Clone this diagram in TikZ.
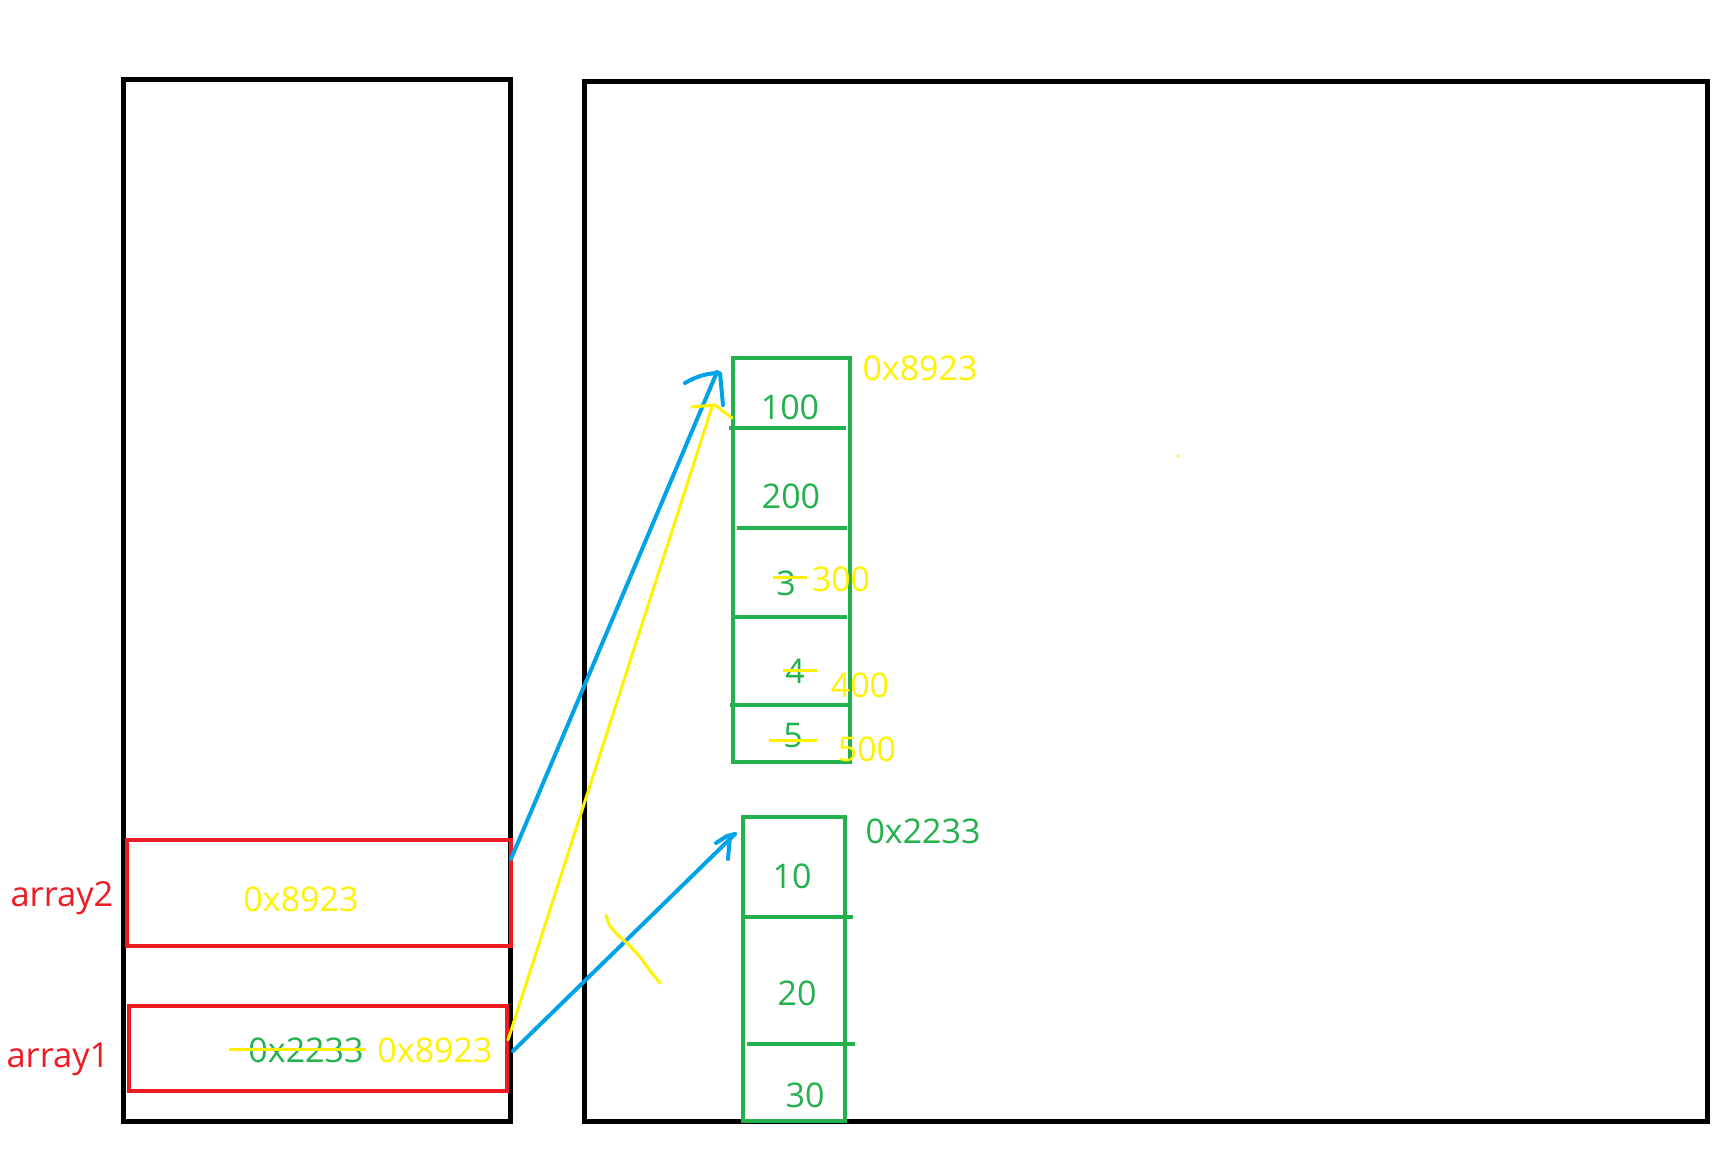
\documentclass[tikz,border=0pt]{standalone}
\usepackage{fontspec}
\setmainfont{Open Sans}
\definecolor{pgreen}{HTML}{22B14C}
\definecolor{pred}{HTML}{ED1C24}
\definecolor{pyellow}{HTML}{FFF200}
\definecolor{pblue}{HTML}{00A2E8}
\begin{document}
\begin{tikzpicture}[x=1pt,y=-1pt,
  memblock/.style={draw=black, line width=5pt, inner sep=0pt},
  varbox/.style={draw=pred, line width=4pt, inner sep=0pt},
  arrbox/.style={draw=pgreen, line width=4pt, inner sep=0pt},
  divline/.style={draw=pgreen, line width=3.5pt},
  txt/.style={font=\fontsize{34}{40}\selectfont, inner sep=0pt, anchor=base},
  gtxt/.style={txt, text=pgreen},
  ytxt/.style={txt, text=pyellow},
  rtxt/.style={font=\fontsize{34.5}{40}\selectfont, inner sep=0pt, anchor=base, text=pred},
  strike/.style={draw=pyellow, line width=3pt},
  bluearrow/.style={draw=pblue, line width=4pt, line cap=round, line join=round},
  yellowarrow/.style={draw=pyellow, line width=3pt, line cap=round, line join=round}
]
\useasboundingbox[fill=white] (0,0) rectangle (1735,1163);

% memory areas
\node[memblock, minimum width=387pt, minimum height=1042pt] (stack) at (316.5,600) {};
\node[memblock, minimum width=1123pt, minimum height=1040pt] (heap) at (1145.5,601) {};

% variable boxes
\node[varbox, minimum width=384pt, minimum height=106pt] (a2box) at (319,893) {};
\node[varbox, minimum width=378pt, minimum height=85pt] (a1box) at (318,1048.5) {};
\node[rtxt] (a2lbl) at (62,906) {array2};
\node[rtxt] (a1lbl) at (58,1067) {array1};
\node[ytxt] (a2val) at (301,911) {0x8923};
\node[gtxt] (a1old) at (306,1062) {0x2233};
\node[ytxt] (a1new) at (435,1062) {0x8923};
\draw[strike] (229,1049) -- (366,1049);

% top array (0x8923)
\node[arrbox, minimum width=117pt, minimum height=404pt] (arrA) at (791.5,560) {};
\draw[divline] (729,428) -- (846,428);
\draw[divline] (737,528) -- (847,528);
\draw[divline] (735,617) -- (847,617);
\draw[divline] (730,705) -- (848,705);
\node[ytxt] (arrAaddr) at (920,380) {0x8923};
\node[gtxt] (vA1) at (790,419) {100};
\node[gtxt] (vA2) at (791,508) {200};
\node[gtxt] (vA3) at (786,595) {3};
\node[gtxt] (vA4) at (795,683) {4};
\node[gtxt] (vA5) at (793,747) {5};
\draw[strike] (773,577) -- (807,577);
\draw[strike] (783,670) -- (817,670);
\draw[strike] (769,740) -- (817,740);
\node[ytxt] (nA3) at (841,591) {300};
\node[ytxt] (nA4) at (860,697) {400};
\node[ytxt] (nA5) at (867,761) {500};

% bottom array (0x2233)
\node[arrbox, minimum width=102pt, minimum height=304pt] (arrB) at (794,969) {};
\draw[divline] (744,917) -- (853,917);
\draw[divline] (747,1044) -- (855,1044);
\node[gtxt] (arrBaddr) at (923,843) {0x2233};
\node[gtxt] (vB1) at (792,888) {10};
\node[gtxt] (vB2) at (797,1005) {20};
\node[gtxt] (vB3) at (805,1107) {30};

% connector end points
\coordinate (b1s) at (511,859);
\coordinate (b1e) at (717,372);
\coordinate (b2s) at (513,1051);
\coordinate (b2e) at (735,834);
\coordinate (y1s) at (508,1040);
\coordinate (y1e) at (712,407);

% blue arrow array2 -> top array
\draw[bluearrow] (b1s) -- (b1e);
\draw[bluearrow] (685,383) .. controls (697,376) and (708,373) .. (720,373) -- (723,405);
% yellow arrow array1 -> top array
\draw[yellowarrow] (y1s) -- (y1e);
\draw[yellowarrow] (692,407) -- (715,405) -- (732,418);
% blue arrow array1 -> bottom array
\draw[bluearrow] (b2s) -- (b2e);
\draw[bluearrow] (716,843) -- (727,836) -- (735,834);
\draw[bluearrow] (730,836) -- (728,859);
% yellow cross-out on the old link
\draw[yellowarrow] plot[smooth] coordinates {(606,915) (610,926) (619,936) (629,945) (640,957) (648,968) (660,983)};
% stray yellow dot
\fill[pyellow] (1178,456) circle (1.5pt);
\end{tikzpicture}
\end{document}
